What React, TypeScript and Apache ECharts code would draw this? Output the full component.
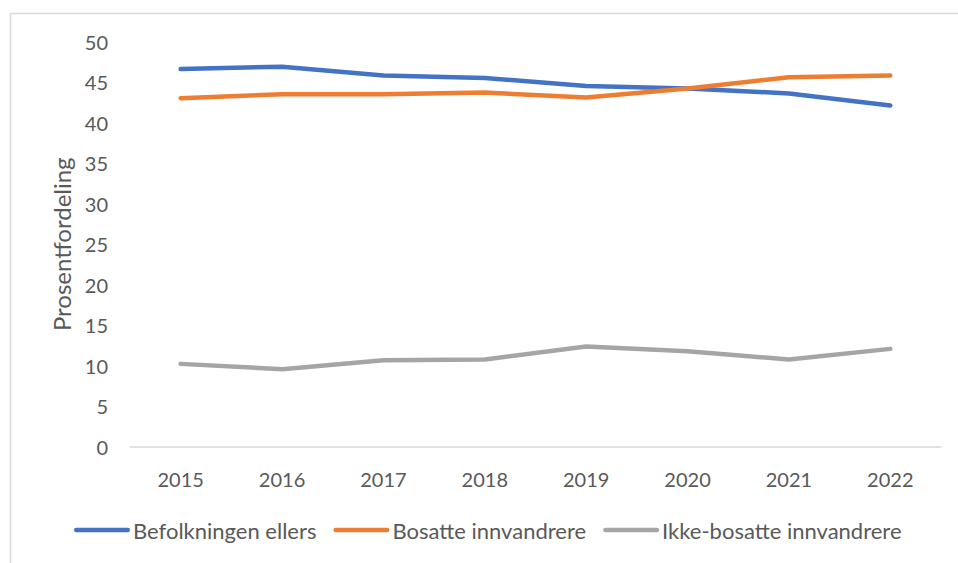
import React, { useEffect, useRef } from "react";
import * as echarts from "echarts";

const years = ["2015", "2016", "2017", "2018", "2019", "2020", "2021", "2022"];
const befolkningenEllers = [46.6, 46.9, 45.8, 45.5, 44.5, 44.2, 43.6, 42.1];
const bosatteInnvandrere = [43.0, 43.5, 43.5, 43.7, 43.1, 44.2, 45.6, 45.8];
const ikkeBosatteInnvandrere = [10.25, 9.6, 10.7, 10.8, 12.4, 11.8, 10.8, 12.1];

const FONT = "Lato";
const TEXT = "#595959";
const LEGEND_ICON = "path://M2.25,0 H53.75 A2.25,2.25 0 0 1 53.75,4.5 H2.25 A2.25,2.25 0 0 1 2.25,0 Z";

export default function App() {
  const ref = useRef<HTMLDivElement>(null);
  useEffect(() => {
    if (!ref.current) return;
    const chart = echarts.init(ref.current, undefined, { renderer: "svg" });
    const mk = (name: string, data: number[], color: string) => ({
      name,
      type: "line",
      data,
      symbol: "none",
      lineStyle: { color, width: 4.5, cap: "round", join: "round" },
      itemStyle: { color },
    });
    chart.setOption({
      animation: false,
      backgroundColor: "#ffffff",
      textStyle: { fontFamily: FONT },
      graphic: [
        {
          type: "rect",
          shape: { x: 10.5, y: 13.5, width: 1000, height: 600 },
          style: { fill: "none", stroke: "#d9d9d9", lineWidth: 1.5 },
          silent: true,
        },
      ],
      grid: { left: 130, right: 17, top: 41.5, bottom: 116, containLabel: false },
      legend: {
        left: 69,
        top: 514,
        icon: LEGEND_ICON,
        itemWidth: 56,
        itemHeight: 4.5,
        itemGap: 17,
        textStyle: { color: TEXT, fontSize: 22, fontFamily: FONT, padding: [0, 0, 0, -2] },
        data: ["Befolkningen ellers", "Bosatte innvandrere", "Ikke-bosatte innvandrere"],
      },
      xAxis: {
        type: "category",
        data: years,
        boundaryGap: true,
        axisLine: { show: true, lineStyle: { color: "#d9d9d9", width: 1.5 } },
        axisTick: { show: false },
        axisLabel: { color: TEXT, fontSize: 20, fontFamily: FONT, margin: 22 },
      },
      yAxis: {
        type: "value",
        min: 0,
        max: 50,
        interval: 5,
        name: "Prosentfordeling",
        nameLocation: "middle",
        nameGap: 57,
        nameTextStyle: { color: TEXT, fontSize: 24, fontFamily: FONT },
        axisLine: { show: false },
        axisTick: { show: false },
        splitLine: { show: false },
        axisLabel: { color: TEXT, fontSize: 20, fontFamily: FONT, margin: 22 },
      },
      series: [
        mk("Befolkningen ellers", befolkningenEllers, "#4472C4"),
        mk("Bosatte innvandrere", bosatteInnvandrere, "#ED7D31"),
        mk("Ikke-bosatte innvandrere", ikkeBosatteInnvandrere, "#A5A5A5"),
      ],
    });
    return () => chart.dispose();
  }, []);
  return (
    <div
      ref={ref}
      style={{ position: "fixed", left: 0, top: 0, width: 958, height: 563, background: "#fff" }}
    />
  );
}
